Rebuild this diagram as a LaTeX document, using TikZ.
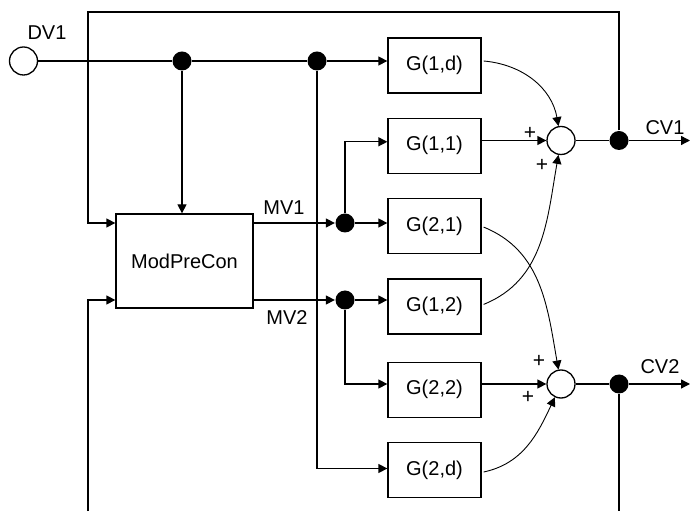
\documentclass[tikz,border=0pt]{standalone}
\usepackage{fontspec}
\setmainfont{Liberation Sans}
\usepackage{tikz}
\usetikzlibrary{arrows.meta,positioning,calc}
\definecolor{cInk}{HTML}{000000}
\tikzset{
  sig/.style   = {font=\fontsize{20}{22}\selectfont, inner sep=1pt},
  blk/.style   = {draw=cInk, minimum width=93pt, minimum height=55pt,
                  inner sep=2pt, font=\fontsize{20}{22}\selectfont},
  ctrl/.style  = {blk, minimum width=137pt, minimum height=94pt},
  sumpt/.style = {circle, draw=cInk, fill=white, minimum size=28pt, inner sep=0pt},
  term/.style  = {circle, draw=cInk, minimum size=28pt, inner sep=0pt},
  jdot/.style  = {circle, fill=cInk, minimum size=19pt, inner sep=0pt},
  flow/.style  = {-{Triangle[length=9pt,width=9pt]}},
  xlink/.style = {flow, line width=0.9pt},
  sgn/.style   = {font=\fontsize{21}{21}\selectfont, inner sep=0pt},
}
\begin{document}
\begin{tikzpicture}[x=1pt, y=1pt, node distance=24pt, line width=1.3pt, draw=cInk]
  \useasboundingbox (0,0) rectangle (690,511);
  % disturbance input and controller
  \node[term] (dv) at (23.5,450) {};
  \node[sig] (dvlbl) at (47,478) {DV1};
  \node[ctrl] (mpc) at (184.5,250) {ModPreCon};
  % plant blocks
  \node[blk] (g1d) at (434.5,445.5) {G(1,d)};
  \node[blk, below=of g1d] (g11) {G(1,1)};
  \node[blk, below=of g11] (g21) {G(2,1)};
  \node[blk, below=of g21] (g12) {G(1,2)};
  \node[blk, below=27pt of g12] (g22) {G(2,2)};
  \node[blk, below=of g22] (g2d) {G(2,d)};
  % summing points and junctions
  \node[sumpt] (s1) at (561,370.5) {};
  \node[sumpt] (s2) at (561,127) {};
  \node[jdot] (ja) at (182,450) {};
  \node[jdot] (jb) at (317,450) {};
  \node[jdot] (j1) at (345,288) {};
  \node[jdot] (j2) at (345,211) {};
  \node[jdot] (c1) at (619,370.5) {};
  \node[jdot] (c2) at (619,127) {};
  \coordinate (out1) at (690,370.5);
  \coordinate (out2) at (690,127);
  \coordinate (fbtop) at (88,499);
  \coordinate (fbl) at (88,0);
  \coordinate (fbr) at (619,0);
  % signal names and signs
  \node[sig] (mv1) at (284,303) {MV1};
  \node[sig] (mv2) at (287,193) {MV2};
  \node[sig] (cv1) at (665,383) {CV1};
  \node[sig] (cv2) at (660,144) {CV2};
  \node[sgn] (p11) at (530,378) {+};
  \node[sgn] (p12) at (542,346) {+};
  \node[sgn] (p21) at (539,150) {+};
  \node[sgn] (p22) at (528,114) {+};
  % disturbance paths
  \draw (dv) -- (ja);
  \draw (ja) -- (jb);
  \draw[flow] (jb) -- (jb -| g1d.west);
  \draw[flow] (ja) -- (ja |- mpc.north);
  \draw[flow] (jb) |- ([yshift=1.5pt]g2d.west);
  % manipulated variables
  \draw[flow] (mpc.east |- j1) -- (j1);
  \draw[flow] (mpc.east |- j2) -- (j2);
  \draw[flow] (j1) -- (j1 -| g21.west);
  \draw[flow] (j1) |- ([yshift=4pt]g11.west);
  \draw[flow] (j2) -- (j2 -| g12.west);
  \draw[flow] (j2) |- (g22.west |- s2);
  % into the summing points
  \draw[flow] (g11.east |- s1) -- (s1);
  \draw[flow] (g22.east |- s2) -- (s2);
  \draw[xlink] ([xshift=2pt,yshift=4.5pt]g1d.east) to[out=-5, in=100] (s1);
  \draw[xlink] ([xshift=2pt,yshift=-1pt]g21.east) to[out=-22, in=100] (s2);
  \draw[xlink] ([xshift=2pt,yshift=2pt]g12.east) to[out=22, in=-100] (s1);
  \draw[xlink] ([xshift=2pt,yshift=-2pt]g2d.east) to[out=12, in=-115] (s2);
  % outputs and feedback
  \draw (s1) -- (c1);
  \draw[flow] (c1) -- (out1);
  \draw (s2) -- (c2);
  \draw[flow] (c2) -- (out2);
  \draw[flow] (c1) |- (fbtop) |- (mpc.west |- j1);
  \draw (c2) -- (fbr);
  \draw[flow] (fbl) |- (mpc.west |- j2);
\end{tikzpicture}
\end{document}
